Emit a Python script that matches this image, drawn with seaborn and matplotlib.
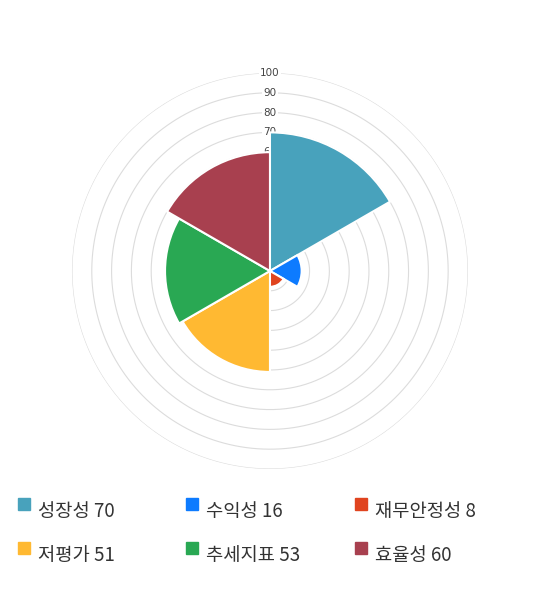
import numpy as np
import matplotlib.pyplot as plt
import seaborn as sns
from matplotlib.patches import Rectangle

# 데이터
categories = ['성장성', '수익성', '재무안정성', '저평가', '추세지표', '효율성']
scores = [70, 16, 8, 51, 53, 60]
colors = ['#48A2BC', '#0D7BFF', '#E0441F', '#FFB932', '#29A853', '#A8404F']
ring_ticks = [10, 20, 30, 40, 50, 60, 70, 80, 90, 100]

sns.set_style("white")
plt.rcParams['font.family'] = ['Noto Sans CJK KR', 'DejaVu Sans']

fig = plt.figure(figsize=(5.4, 5.9), dpi=100)
ax = fig.add_axes([0.1333, 0.2051, 0.7333, 0.6712], projection='polar')
ax.set_theta_zero_location('N')
ax.set_theta_direction(-1)

n = len(categories)
width = 2 * np.pi / n
theta = np.arange(n) * width
ax.bar(theta, scores, width=width, align='edge', color=colors,
       edgecolor='white', linewidth=1.5, zorder=3)

ax.set_ylim(0, 100)
ax.set_xticks([])
ax.set_yticks([])
ax.grid(False)
ax.spines['polar'].set_visible(False)

# 동심원 그리드 + 눈금 라벨
t = np.linspace(0, 2 * np.pi, 400)
for r in ring_ticks:
    ax.plot(t, np.full_like(t, r), color='#dcdcdc', lw=0.8, zorder=1)
    ax.text(0, r, str(r), ha='center', va='center', fontsize=7.5, color='#444444',
            family='DejaVu Sans', zorder=2,
            bbox=dict(boxstyle='square,pad=0.1', fc='white', ec='none'))

# 범례
col_x = [18, 186, 355]
row_y = [504, 548]
W, H = 540, 590
for i, (name, val, c) in enumerate(zip(categories, scores, colors)):
    x = col_x[i % 3]
    y = row_y[i // 3]
    fig.patches.append(Rectangle((x / W, 1 - (y + 6) / H), 12 / W, 12 / H,
                                 transform=fig.transFigure, color=c))
    fig.text((x + 20) / W, 1 - (y + 7) / H, f'{name} {val}', fontsize=13.5,
             color='#333333', ha='left', va='center')

fig.savefig('out.png', dpi=100)
